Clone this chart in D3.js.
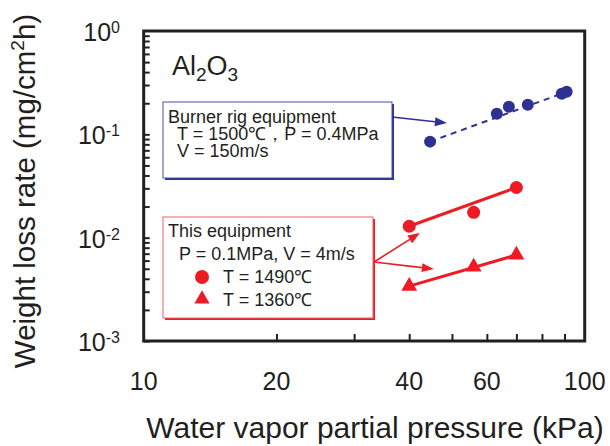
<!DOCTYPE html>
<html>
<head>
<meta charset="UTF-8">
<style>
  body { margin: 0; padding: 0; background: #fff; }
  svg { display: block; font-family: "Liberation Sans", Arial, sans-serif; }
  text { fill: #231f20; }
</style>
</head>
<body>
<svg id="chart" width="610" height="446"></svg>
<script src="https://d3js.org/d3.v7.min.js"></script>
<script>
// burner rig data (blue)
const rigPressure = [44.6, 63.2, 67.3, 74.3, 88.7, 91.0];
const rigLoss = [0.085, 0.158, 0.185, 0.193, 0.247, 0.258];
// this equipment, T = 1490 (circles)
const hiPressure = [40, 56, 70];
const hiLoss = [0.0129, 0.0176, 0.0306];
// this equipment, T = 1360 (triangles)
const loPressure = [40, 56, 70];
const loLoss = [0.0034, 0.0052, 0.0068];

const xTickLabels = [10, 20, 40, 60, 100];
const xMinorTicks = [20, 30, 40, 50, 60, 70, 80, 90];
const yExponents = [0, -1, -2, -3];

// arrow tips, in data units
const rigArrowTip = [48.7, 0.1287];
const hiArrowTip = [42.3, 0.0111];
const loArrowTip = [45.5, 0.00497];

const blue = "#2e3192", red = "#ed1c24", ink = "#231f20";

const svg = d3.select("#chart");
const x = d3.scaleLog().domain([10, 100]).range([143.7, 584.7]);
const y = d3.scaleLog().domain([1e-3, 1]).range([341, 31]);

// ticks
const yTicks = [];
yExponents.slice(1).forEach(e => {
  for (let k = 1; k < 10; k++) yTicks.push(k * Math.pow(10, e));
});

const yAxis = svg.append("g")
    .attr("transform", `translate(${x.range()[0]},0)`)
    .call(d3.axisLeft(y).tickValues(yTicks).tickSize(-6).tickFormat(""));
const xAxis = svg.append("g")
    .attr("transform", `translate(0,${y.range()[0]})`)
    .call(d3.axisBottom(x).tickValues(xMinorTicks).tickSize(-7).tickFormat(""));
[xAxis, yAxis].forEach(g => {
  g.select(".domain").remove();
  g.selectAll(".tick line").attr("stroke", ink).attr("stroke-width", 2);
});

// frame
svg.append("rect")
    .attr("x", x.range()[0]).attr("y", y.range()[1])
    .attr("width", x.range()[1] - x.range()[0])
    .attr("height", y.range()[0] - y.range()[1])
    .attr("fill", "none").attr("stroke", ink).attr("stroke-width", 3);

// y tick labels 10^n
yExponents.forEach(e => {
  const t = svg.append("text")
      .attr("x", 120).attr("y", y(Math.pow(10, e)) + 10)
      .attr("text-anchor", "end")
      .style("font-size", "25px");
  t.append("tspan").text("10");
  t.append("tspan").attr("dy", -8).style("font-size", "16px").text(e);
});

// x tick labels
svg.selectAll(".xlab").data(xTickLabels).enter().append("text")
    .attr("x", d => x(d)).attr("y", 390)
    .attr("text-anchor", "middle")
    .style("font-size", "25px")
    .text(d => d);

// axis titles
svg.append("text")
    .attr("x", 375).attr("y", 438)
    .attr("text-anchor", "middle")
    .style("font-size", "30px")
    .text("Water vapor partial pressure (kPa)");

const yt = svg.append("text")
    .attr("transform", "translate(35,191) rotate(-90)")
    .attr("text-anchor", "middle")
    .style("font-size", "29.5px");
yt.append("tspan").text("Weight loss rate (mg/cm");
yt.append("tspan").attr("dy", -11).style("font-size", "19px").text("2");
yt.append("tspan").attr("dy", 11).text("h)");

// Al2O3
const al = svg.append("text").attr("x", 172).attr("y", 75).style("font-size", "27px");
al.append("tspan").text("Al");
al.append("tspan").attr("dy", 6).style("font-size", "19px").text("2");
al.append("tspan").attr("dy", -6).text("O");
al.append("tspan").attr("dy", 6).style("font-size", "19px").text("3");

// arrows
function arrow(x1, y1, x2, y2, color, w, len, half) {
  const dx = x2 - x1, dy = y2 - y1, L = Math.hypot(dx, dy);
  const ux = dx / L, uy = dy / L;
  const bx = x2 - ux * len, by = y2 - uy * len;
  svg.append("line")
      .attr("x1", x1).attr("y1", y1).attr("x2", bx).attr("y2", by)
      .attr("stroke", color).attr("stroke-width", w);
  svg.append("path")
      .attr("d", `M${x2},${y2}L${bx - uy * half},${by + ux * half}L${bx + uy * half},${by - ux * half}Z`)
      .attr("fill", color);
}

// boxes
function box(x0, y0, w, h, border, shadow) {
  svg.append("rect").attr("x", x0 + 2).attr("y", y0 + 2).attr("width", w).attr("height", h)
      .attr("fill", shadow);
  svg.append("rect").attr("x", x0).attr("y", y0).attr("width", w).attr("height", h)
      .attr("fill", "#fff").attr("stroke", border).attr("stroke-width", 1);
}

box(163, 102, 229, 76, "#4a4fa8", blue);
box(163, 217, 210, 101, "#f26060", red);

const rigText = ["Burner rig equipment", "T = 1500℃，P = 0.4MPa", "V = 150m/s"];
svg.selectAll(".rigtxt").data(rigText).enter().append("text")
    .attr("x", (d, i) => i ? 177 : 168)
    .attr("y", (d, i) => 123 + i * 17)
    .style("font-size", "18px")
    .text(d => d);

const eqText = ["This equipment", "P = 0.1MPa, V = 4m/s", "T = 1490℃", "T = 1360℃"];
const eqX = [168, 179, 223, 223];
svg.selectAll(".eqtxt").data(eqText).enter().append("text")
    .attr("x", (d, i) => eqX[i])
    .attr("y", (d, i) => 237 + i * 23)
    .style("font-size", "18px")
    .text(d => d);
svg.append("circle").attr("cx", 202).attr("cy", 277).attr("r", 7).attr("fill", red);
svg.append("path").attr("transform", "translate(202,299)")
    .attr("d", d3.symbol(d3.symbolTriangle, 100)()).attr("fill", red);

arrow(392, 117, x(rigArrowTip[0]), y(rigArrowTip[1]), blue, 1.6, 12, 4.5);
arrow(374, 262, x(hiArrowTip[0]), y(hiArrowTip[1]), red, 1.6, 12, 4.5);
arrow(374, 262, x(loArrowTip[0]), y(loArrowTip[1]), red, 1.6, 12, 4.5);

// fitted lines: first to last point of each series
const last = a => a[a.length - 1];
svg.append("line")
    .attr("x1", x(rigPressure[0])).attr("y1", y(rigLoss[0]))
    .attr("x2", x(last(rigPressure))).attr("y2", y(last(rigLoss)))
    .attr("stroke", blue).attr("stroke-width", 2).attr("stroke-dasharray", "6,5");
svg.append("line")
    .attr("x1", x(hiPressure[0])).attr("y1", y(hiLoss[0]))
    .attr("x2", x(last(hiPressure))).attr("y2", y(last(hiLoss)))
    .attr("stroke", red).attr("stroke-width", 3);
svg.append("line")
    .attr("x1", x(loPressure[0])).attr("y1", y(loLoss[0]))
    .attr("x2", x(last(loPressure))).attr("y2", y(last(loLoss)))
    .attr("stroke", red).attr("stroke-width", 3);

// markers
svg.selectAll(".rig").data(rigPressure).enter().append("circle")
    .attr("cx", d => x(d)).attr("cy", (d, i) => y(rigLoss[i]))
    .attr("r", 6).attr("fill", blue);
svg.selectAll(".hi").data(hiPressure).enter().append("circle")
    .attr("cx", d => x(d)).attr("cy", (d, i) => y(hiLoss[i]))
    .attr("r", 6.5).attr("fill", red);
svg.selectAll(".lo").data(loPressure).enter().append("path")
    .attr("transform", (d, i) => `translate(${x(d)},${y(loLoss[i])})`)
    .attr("d", d3.symbol(d3.symbolTriangle, 110)())
    .attr("fill", red);
</script>
</body>
</html>
